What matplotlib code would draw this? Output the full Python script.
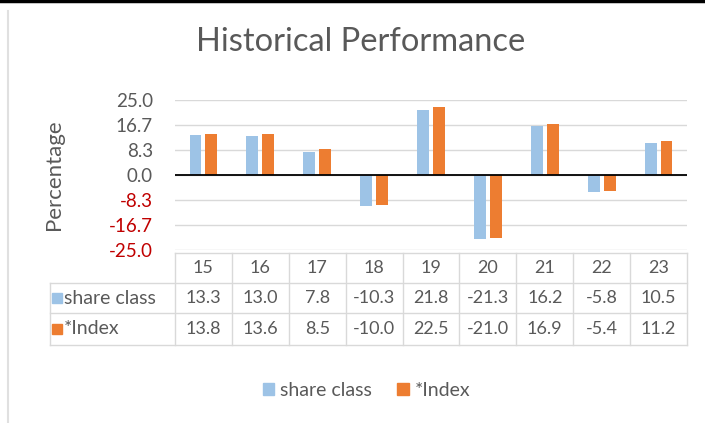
import matplotlib.pyplot as plt
from matplotlib.lines import Line2D
import matplotlib.transforms as mtransforms

plt.rcParams['font.family'] = ['Lato', 'DejaVu Sans']

years = ['15', '16', '17', '18', '19', '20', '21', '22', '23']
share_class = [13.3, 13.0, 7.8, -10.3, 21.8, -21.3, 16.2, -5.8, 10.5]
index_vals = [13.8, 13.6, 8.5, -10.0, 22.5, -21.0, 16.9, -5.4, 11.2]
series_names = ['share class', '*Index']
yticks = [25.0, 16.7, 8.3, 0.0, -8.3, -16.7, -25.0]

blue = '#9dc3e6'
orange = '#ed7d31'
grid_c = '#d9d9d9'
text_c = '#595959'
red = '#c00000'

fig = plt.figure(figsize=(7.05, 4.23), dpi=100)
ax = fig.add_axes([175 / 705, 1 - 250 / 423, 512 / 705, 150 / 423])

x = list(range(len(years)))
w = 0.21
off = 0.14
ax.bar([i - off for i in x], share_class, width=w, color=blue, zorder=2)
ax.bar([i + off for i in x], index_vals, width=w, color=orange, zorder=2)

ax.set_xlim(-0.5, len(years) - 0.5)
ax.set_ylim(-25, 25)
ticks = [25, 50 / 3, 25 / 3, 0, -25 / 3, -50 / 3, -25]
ax.set_yticks(ticks)
ax.set_yticklabels([f'{v:.1f}' for v in yticks], fontsize=13.5)
for lab, v in zip(ax.get_yticklabels(), yticks):
    lab.set_color(red if v < 0 else text_c)
ax.tick_params(axis='y', length=0, pad=16)
ax.set_xticks([])
for s in ax.spines.values():
    s.set_visible(False)
ax.grid(axis='y', color=grid_c, linewidth=1, zorder=0)
ax.axhline(0, color='black', linewidth=1.3, zorder=3)
ax.set_ylabel('Percentage', fontsize=16, color=text_c, labelpad=32)

# data table below the plot
tr = mtransforms.blended_transform_factory(ax.transData, ax.transAxes)
row_y = [-0.02, -0.22, -0.42, -0.633]
left_x = -2.69
right_x = len(years) - 0.5
kw = dict(transform=tr, color=grid_c, linewidth=1, clip_on=False)
ax.plot([-0.5, right_x], [row_y[0]] * 2, **kw)
for yy in row_y[1:]:
    ax.plot([left_x, right_x], [yy] * 2, **kw)
ax.plot([left_x, left_x], [row_y[1], row_y[3]], **kw)
for i in range(len(years) + 1):
    ax.plot([i - 0.5, i - 0.5], [row_y[0], row_y[3]], **kw)

mid = [(row_y[k] + row_y[k + 1]) / 2 for k in range(3)]
for i, yr in enumerate(years):
    ax.text(i, mid[0], yr, transform=tr, ha='center', va='center',
            fontsize=13, color=text_c)
    ax.text(i, mid[1], f'{share_class[i]:.1f}', transform=tr, ha='center',
            va='center', fontsize=13, color=text_c)
    ax.text(i, mid[2], f'{index_vals[i]:.1f}', transform=tr, ha='center',
            va='center', fontsize=13, color=text_c)

for k, (name, c) in enumerate(zip(series_names, [blue, orange])):
    ax.plot([left_x + 0.12], [mid[k + 1]], marker='s', markersize=7, color=c,
            transform=tr, clip_on=False)
    ax.text(left_x + 0.24, mid[k + 1], name, transform=tr, ha='left',
            va='center', fontsize=14, color=text_c)

fig.suptitle('Historical Performance', x=0.511, y=0.935, fontsize=23.5,
             color=text_c)

handles = [plt.Rectangle((0, 0), 1, 1, color=blue),
           plt.Rectangle((0, 0), 1, 1, color=orange)]
fig.legend(handles, series_names, loc='center', bbox_to_anchor=(0.52, 0.077),
           ncol=2, frameon=False, fontsize=14, labelcolor=text_c,
           handlelength=0.6, handleheight=0.6, handletextpad=0.3,
           columnspacing=1.3)

# outer frame bits
fig.add_artist(Line2D([0, 1], [0.997, 0.997], color='black', linewidth=2.5,
                      transform=fig.transFigure))
fig.add_artist(Line2D([8 / 705, 8 / 705], [0, 0.975], color='#e0e0e0',
                      linewidth=1.5, transform=fig.transFigure))

fig.savefig('out.png', dpi=100)
